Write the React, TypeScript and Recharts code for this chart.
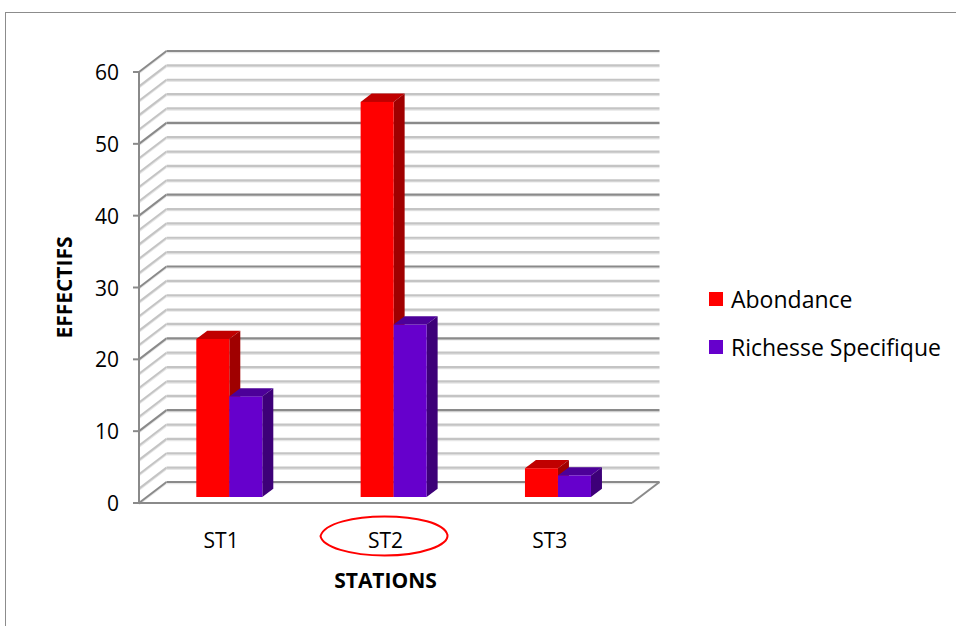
import React from 'react';
import { BarChart, Bar, XAxis, YAxis, CartesianGrid, Legend, Label } from 'recharts';

const stations = ['ST1', 'ST2', 'ST3'];
const abondance = [22, 55, 4];
const richesse = [14, 24, 3];
const gridTicks = [0, 2, 4, 6, 8, 10, 12, 14, 16, 18, 20, 22, 24, 26, 28, 30, 32, 34, 36, 38, 40, 42, 44, 46, 48, 50, 52, 54, 56, 58, 60];
const highlighted = 'ST2';

const data = stations.map((station, i) => ({
  station,
  abondance: abondance[i],
  richesse: richesse[i],
}));

const FONT = "'Open Sans', sans-serif";

// depth of the back wall and of the bars (px)
const WALL_DX = 27.5;
const WALL_DY = -21;
const BAR_OX = 8;
const BAR_OY = -6;
const BAR_DX = 11;
const BAR_DY = -8.3;

const MAJOR = '#8a8a8a';
const MINOR = '#c4c4c4';
const SHADE = '#e6e6e6';

function WallLine(props: any) {
  const { x1, x2, y1, index, y, height } = props;
  const major = index % 5 === 0;
  const stroke = major ? MAJOR : MINOR;
  const bx = x1 + WALL_DX;
  const by = y1 + WALL_DY;
  const isFloor = Math.abs(y1 - (y + height)) < 1;
  return (
    <g key={`wall-${index}`}>
      <line x1={x1} y1={y1 + 1.5} x2={bx} y2={by + 1.5} stroke={SHADE} strokeWidth={1.5} />
      <line x1={x1} y1={y1} x2={bx} y2={by} stroke={stroke} strokeWidth={2} />
      <line x1={bx} y1={by + 1.5} x2={x2 + WALL_DX} y2={by + 1.5} stroke={SHADE} strokeWidth={1.5} />
      <line x1={bx} y1={by} x2={x2 + WALL_DX} y2={by} stroke={stroke} strokeWidth={2.2} />
      {isFloor && (
        <line x1={x2} y1={y1} x2={x2 + WALL_DX} y2={by} stroke={MAJOR} strokeWidth={2} />
      )}
    </g>
  );
}

function Bar3D(props: any) {
  const { x, y, width, height, fill, top, side } = props;
  if (!height || height <= 0) return null;
  const fx = x + BAR_OX;
  const fy = y + BAR_OY;
  const w = width;
  return (
    <g>
      <polygon
        points={`${fx},${fy} ${fx + BAR_DX},${fy + BAR_DY} ${fx + w + BAR_DX},${fy + BAR_DY} ${fx + w},${fy}`}
        fill={top}
      />
      <polygon
        points={`${fx + w},${fy} ${fx + w + BAR_DX},${fy + BAR_DY} ${fx + w + BAR_DX},${fy + height + BAR_DY} ${fx + w},${fy + height}`}
        fill={side}
      />
      <rect x={fx} y={fy} width={w} height={height} fill={fill} />
    </g>
  );
}

function YTick(props: any) {
  const { x, y, payload } = props;
  if (payload.value % 10 !== 0) return null;
  return (
    <g>
      <line x1={x + 14} y1={y} x2={x + 20} y2={y} stroke={MAJOR} strokeWidth={2} />
      <text x={x} y={y} textAnchor="end" dominantBaseline="central" fontSize={21} fontFamily={FONT} fill="#000">
        {payload.value}
      </text>
    </g>
  );
}

function XTick(props: any) {
  const { x, y, payload } = props;
  return (
    <g>
      <text x={x} y={y} textAnchor="middle" dominantBaseline="central" fontSize={21} fontFamily={FONT} fill="#000">
        {payload.value}
      </text>
      {payload.value === highlighted && (
        <path
          transform={`translate(${x - 1},${y - 4})`}
          d="M -64 0 C -60 -13 -30 -19.5 0 -19.5 C 32 -19.5 60 -13 63 -1 C 64 9 38 19.5 0 19.5 C -34 19.5 -62 11 -64 0 Z"
          fill="none"
          stroke="#ff0000"
          strokeWidth={2}
        />
      )}
    </g>
  );
}

function LegendBox(props: any) {
  const { payload } = props;
  return (
    <div style={{ paddingTop: 12, paddingLeft: 77, fontFamily: FONT, fontSize: 23, color: '#000' }}>
      {payload.map((entry: any) => (
        <div key={entry.value} style={{ display: 'flex', alignItems: 'center', height: 48, whiteSpace: 'nowrap' }}>
          <span style={{ display: 'inline-block', flexShrink: 0, width: 14, height: 14, background: entry.color, marginRight: 8 }} />
          <span style={{ flexShrink: 0 }}>{entry.value}</span>
        </div>
      ))}
    </div>
  );
}

export default function App() {
  return (
    <div style={{ position: 'absolute', left: 0, top: 0, width: 956, height: 626, overflow: 'hidden', background: '#fff', fontFamily: FONT }}>
      <div style={{ position: 'absolute', left: 5, top: 12, width: 1000, height: 700, border: '1px solid #8c8c8c' }} />
      <div style={{ position: 'absolute', left: 0, top: 0 }}>
        <BarChart
          width={956}
          height={626}
          data={data}
          margin={{ top: 72, right: 78, bottom: 33, left: 79 }}
          barGap={0}
          barCategoryGap="30%"
        >
          <CartesianGrid vertical={false} horizontal={(p: any) => <WallLine {...p} key={`w-${p.index}`} />} />
          <XAxis
            dataKey="station"
            height={90}
            axisLine={{ stroke: MAJOR, strokeWidth: 2 }}
            tickLine={false}
            tickSize={0}
            tickMargin={37}
            tick={<XTick />}
          >
            <Label value="STATIONS" position="insideBottom" offset={5} fontSize={21} fontWeight="bold" fontFamily={FONT} fill="#000" />
          </XAxis>
          <YAxis
            width={60}
            domain={[0, 60]}
            ticks={gridTicks}
            interval={0}
            axisLine={{ stroke: MAJOR, strokeWidth: 2 }}
            tickLine={false}
            tickSize={6}
            tickMargin={14}
            tick={<YTick />}
          >
            <Label
              value="EFFECTIFS"
              angle={-90}
              position="insideLeft"
              offset={-14}
              fontSize={21}
              fontWeight="bold"
              fontFamily={FONT}
              fill="#000"
              style={{ textAnchor: 'middle' }}
            />
          </YAxis>
          <Legend
            layout="vertical"
            align="right"
            verticalAlign="middle"
            width={246}
            height={100}
            wrapperStyle={{ left: 632, top: 263 }}
            content={<LegendBox />}
          />
          <Bar
            dataKey="abondance"
            name="Abondance"
            fill="#ff0000"
            isAnimationActive={false}
            activeBar={false}
            shape={(p: any) => <Bar3D {...p} top="#c00000" side="#a00000" />}
          />
          <Bar
            dataKey="richesse"
            name="Richesse Specifique"
            fill="#6600cc"
            isAnimationActive={false}
            activeBar={false}
            shape={(p: any) => <Bar3D {...p} top="#4c0099" side="#3d0078" />}
          />
        </BarChart>
      </div>
    </div>
  );
}
